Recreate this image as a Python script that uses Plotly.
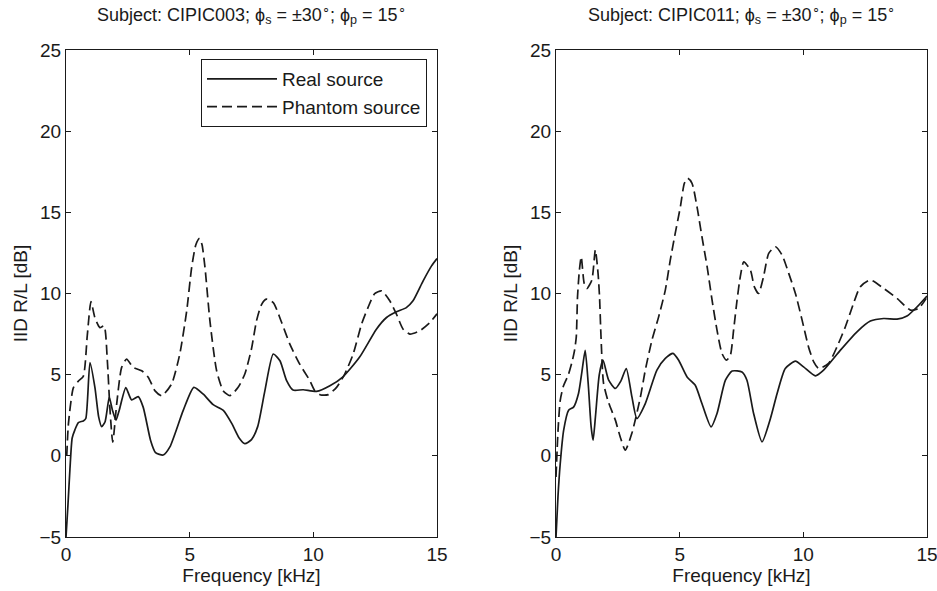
import plotly.graph_objects as go

# ---------------- data ----------------
freq_l_real = [0, 0.08, 0.16, 0.25, 0.36, 0.5, 0.7, 0.8, 0.97, 1.17, 1.32, 1.44, 1.58, 1.75, 1.88,
               2.02, 2.15, 2.42, 2.65, 2.92, 3.12, 3.42, 3.62, 3.93, 4.2, 4.74, 5.17, 5.55, 5.95,
               6.36, 6.7, 7.0, 7.23, 7.5, 7.75, 8.04, 8.38, 8.65, 8.92, 9.18, 9.59, 10.13, 10.67,
               11.2, 11.88, 12.55, 12.96, 13.36, 13.76, 14.03, 14.44, 14.78, 15.0]
iid_l_real = [-5.0, -3.0, -0.8, 1.1, 1.6, 2.05, 2.15, 2.3, 5.75, 4.2, 2.4, 1.8, 2.1, 3.6, 2.8,
              2.2, 2.8, 4.2, 3.45, 3.65, 3.0, 0.95, 0.2, 0.05, 0.55, 2.8, 4.22, 3.8, 3.15,
              2.8, 2.0, 1.1, 0.75, 1.0, 1.8, 4.0, 6.27, 5.86, 4.63, 4.05, 4.07, 3.97, 4.32,
              4.87, 6.1, 7.8, 8.52, 8.87, 9.13, 9.55, 10.78, 11.7, 12.15]

freq_l_phantom = [0.03, 0.1, 0.3, 0.5, 0.7, 0.86, 1.01, 1.17, 1.37, 1.54, 1.67, 1.78, 1.89, 2.05,
                  2.25, 2.45, 2.72, 3.06, 3.33, 3.6, 3.87, 4.27, 4.6, 4.88, 5.08, 5.25, 5.4, 5.5,
                  5.62, 5.82, 6.09, 6.36, 6.63, 6.96, 7.23, 7.5, 7.7, 7.9, 8.1, 8.38, 8.72, 9.05,
                  9.45, 9.86, 10.06, 10.3, 10.6, 10.94, 11.27, 11.61, 11.95, 12.21, 12.48, 12.76,
                  13.09, 13.36, 13.63, 13.9, 14.3, 14.71, 15.0]
iid_l_phantom = [0.0, 2.0, 4.2, 4.6, 4.9, 7.4, 9.5, 8.5, 7.9, 8.0, 5.9, 2.8, 0.84, 3.2,
                 5.45, 5.96, 5.45, 5.24, 4.83, 4.0, 3.7, 4.43, 6.27, 8.93, 11.6, 13.0, 13.4, 13.0,
                 11.6, 8.3, 5.24, 4.0, 3.71, 4.22, 5.04, 6.6, 8.3, 9.3, 9.65, 9.44, 8.21, 6.88,
                 5.65, 4.63, 4.01, 3.75, 3.77, 4.22, 5.04, 6.27, 8.11, 9.13, 9.99, 10.16,
                 9.55, 8.73, 7.8, 7.5, 7.7, 8.21, 8.75]

freq_r_real = [0, 0.08, 0.17, 0.31, 0.51, 0.71, 0.91, 1.05, 1.18, 1.3, 1.42, 1.5, 1.6, 1.75, 1.9,
               2.13, 2.4, 2.62, 2.84, 3.07, 3.27, 3.61, 4.08, 4.42, 4.73, 4.96, 5.3, 5.63, 5.9,
               6.27, 6.51, 6.85, 7.12, 7.52, 7.72, 7.99, 8.33, 8.67, 8.94, 9.27, 9.68, 10.01,
               10.49, 10.82, 11.5, 12.17, 12.71, 13.25, 13.79, 14.19, 14.6, 15.0]
iid_r_real = [-5.0, -2.5, -0.5, 1.58, 2.81, 3.0, 3.84, 5.2, 6.5, 4.5, 1.8, 0.96, 2.5, 5.0, 5.89,
              4.66, 4.15, 4.6, 5.38, 3.63, 2.3, 3.22, 5.28, 6.0, 6.31, 5.89, 4.86, 4.35, 3.22,
              1.78, 2.61, 4.66, 5.22, 5.17, 4.66, 2.61, 0.86, 2.3, 3.84, 5.38, 5.83, 5.48,
              4.93, 5.28, 6.51, 7.64, 8.3, 8.46, 8.42, 8.61, 9.18, 9.85]

freq_r_phantom = [0.0, 0.08, 0.17, 0.3, 0.5, 0.65, 0.75, 0.82, 0.87, 0.94, 1.02, 1.14, 1.25, 1.45,
                  1.59, 1.7, 1.76, 1.82, 1.92, 2.1, 2.4, 2.6, 2.8, 3.07, 3.41, 3.61, 3.88, 4.15,
                  4.42, 4.62, 4.82, 5.03, 5.19, 5.32, 5.5, 5.7, 5.9, 6.11, 6.31, 6.51, 6.71, 6.89,
                  7.05, 7.18, 7.32, 7.45, 7.59, 7.86, 8.02, 8.19, 8.39, 8.6, 8.87, 9.14, 9.41,
                  9.68, 9.95, 10.21, 10.42, 10.62, 11.02, 11.36, 11.7, 12.03, 12.3, 12.71, 13.25,
                  13.79, 14.33, 14.66, 14.97]
iid_r_phantom = [-1.3, 1.5, 3.4, 4.3, 5.0, 5.8, 6.5, 7.33, 9.8, 11.34, 12.26, 10.62, 10.31, 10.83,
                 12.68, 11.24, 9.8, 7.33, 4.5, 3.4, 2.2, 1.15, 0.35, 1.4, 3.6, 5.28, 7.13, 8.56,
                 10.21, 12.06, 13.7, 15.35, 16.79, 17.1, 16.79, 15.35, 13.5, 11.65, 9.59, 7.74, 6.31, 5.89,
                 6.2, 7.74, 9.59, 11.03, 11.95, 11.44, 10.41, 10.0, 11.03, 12.47, 12.88, 12.37, 11.24,
                 10.0, 8.36, 6.71, 5.79, 5.38, 5.69, 6.71, 7.95, 9.39, 10.41, 10.83, 10.31,
                 9.7, 8.98, 9.08, 9.7]

x_ticks = [0, 5, 10, 15]
y_ticks = [-5, 0, 5, 10, 15, 20, 25]
titles = ["Subject: CIPIC003; ϕ<sub>s</sub> = ±30<sup>∘</sup>; ϕ<sub>p</sub> = 15<sup>∘</sup>",
          "Subject: CIPIC011; ϕ<sub>s</sub> = ±30<sup>∘</sup>; ϕ<sub>p</sub> = 15<sup>∘</sup>"]
series_names = ["Real source", "Phantom source"]

# ---------------- figure ----------------
FONT = "Liberation Sans, Arial, Helvetica, sans-serif"
INK = "#1a1a1a"
W, H = 937, 591
FS = 19

def px_x(p):  # page pixel -> paper fraction
    return p / W

def px_y(p):
    return (H - p) / H

fig = go.Figure()

def add(xs, ys, axis, name, dashed, show):
    fig.add_trace(go.Scatter(
        x=xs, y=ys, mode="lines", name=name, showlegend=show,
        xaxis="x" if axis == 1 else "x2", yaxis="y" if axis == 1 else "y2",
        line=dict(color=INK, width=1.7, shape="spline", smoothing=0.6,
                  dash="10px,5px" if dashed else "solid"),
        hoverinfo="skip"))

add(freq_l_real, iid_l_real, 1, series_names[0], False, True)
add(freq_l_phantom, iid_l_phantom, 1, series_names[1], True, True)
add(freq_r_real, iid_r_real, 2, series_names[0], False, False)
add(freq_r_phantom, iid_r_phantom, 2, series_names[1], True, False)

y_dom = [px_y(537), px_y(50)]
dom_l = [px_x(66), px_x(437)]
dom_r = [px_x(556), px_x(927)]

axis_common = dict(showline=True, linecolor=INK, linewidth=1, mirror="ticks",
                   ticks="inside", ticklen=5, tickcolor=INK, tickwidth=1,
                   showgrid=False, zeroline=False, automargin=False,
                   ticklabeloverflow="allow",
                   tickfont=dict(family=FONT, size=FS, color=INK))

xax = dict(axis_common, range=[0, 15], tickvals=x_ticks,
           title=dict(text="Frequency [kHz]", font=dict(family=FONT, size=FS, color=INK), standoff=2))
yax = dict(axis_common, range=[-5, 25], tickvals=y_ticks,
           title=dict(text="IID R/L [dB]", font=dict(family=FONT, size=FS, color=INK), standoff=6))

fig.update_layout(
    width=W, height=H,
    margin=dict(l=0, r=0, t=0, b=0, autoexpand=False),
    paper_bgcolor="white", plot_bgcolor="white",
    xaxis=dict(xax, domain=dom_l, anchor="y"),
    yaxis=dict(yax, domain=y_dom, anchor="x"),
    xaxis2=dict(xax, domain=dom_r, anchor="y2"),
    yaxis2=dict(yax, domain=y_dom, anchor="x2"),
    legend=dict(x=px_x(427), xanchor="right", y=px_y(59), yanchor="top",
                bgcolor="white", bordercolor=INK, borderwidth=1,
                font=dict(family=FONT, size=FS, color=INK),
                itemwidth=70, tracegroupgap=0),
    showlegend=True,
)

for i, dom in enumerate([dom_l, dom_r]):
    fig.add_annotation(text=titles[i], xref="paper", yref="paper",
                       x=(dom[0] + dom[1]) / 2, y=y_dom[1], yshift=21,
                       xanchor="center", yanchor="bottom", showarrow=False,
                       font=dict(family=FONT, size=18, color=INK))

# the page body has a default 8px margin; remove it so the figure fills the window
fig.write_html("out.html",
               config={"displayModeBar": False},
               post_script="document.body.style.margin='0';document.body.style.overflow='hidden';")
